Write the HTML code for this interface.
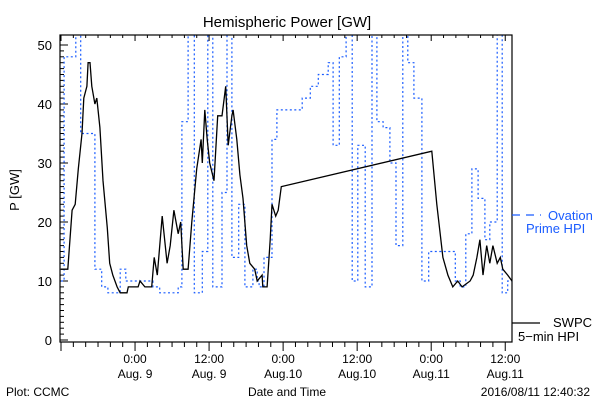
<!DOCTYPE html>
<html><head><meta charset="utf-8"><style>
body{margin:0;background:#fff;}
svg{display:block;font-family:"Liberation Sans",sans-serif;}
</style></head><body>
<svg id="chart" width="600" height="400" viewBox="0 0 600 400">
<rect width="600" height="400" fill="#fff"/>
<text x="287" y="27" font-size="15" text-anchor="middle">Hemispheric Power [GW]</text>
<text x="19" y="190" font-size="13" text-anchor="middle" transform="rotate(-90 19 190)">P [GW]</text>
<text x="287" y="396" font-size="12" text-anchor="middle">Date and Time</text>
<text x="6" y="396" font-size="12">Plot: CCMC</text>
<text x="590" y="396" font-size="12" text-anchor="end">2016/08/11 12:40:32</text>
<g id="axes"></g>
<defs><clipPath id="clip"><rect x="60" y="35" width="452" height="307"/></clipPath></defs>
<g clip-path="url(#clip)" id="series"></g>
<rect x="60" y="35" width="452" height="307" fill="none" stroke="#000" stroke-width="1.2"/>
<g>
<line x1="512" y1="215" x2="541" y2="215" stroke="#1a5cff" stroke-width="1.2" stroke-dasharray="8,6"/>
<text x="548" y="220" font-size="13" fill="#1a5cff">Ovation</text>
<text x="526" y="233" font-size="13" fill="#1a5cff">Prime HPI</text>
</g>
<g>
<line x1="512" y1="323" x2="540" y2="323" stroke="#000" stroke-width="1.2"/>
<text x="553" y="327" font-size="13">SWPC</text>
<text x="518" y="341" font-size="13">5−min HPI</text>
</g>
</svg>
<script>
// SWPC 5-min HPI (hours since Aug 8 12:00, GW)
const swpcT=[0,1.1,1.8,2.3,2.8,3.4,3.7,4.2,4.4,4.7,5.0,5.5,5.8,6.3,6.8,7.5,7.9,8.4,9.1,9.6,10.7,10.9,12.5,12.8,13.6,14.7,15.1,15.6,16.4,17.2,17.7,18.3,19.0,19.4,19.8,20.6,21.2,22.0,22.7,22.9,23.3,23.7,24.1,24.8,25.4,26.1,26.7,27.1,27.7,27.9,28.5,29.0,29.5,30.1,30.6,31.4,31.8,32.6,32.7,33.4,33.9,34.2,34.8,35.2,35.7,60.1,60.9,61.9,62.7,63.5,64.3,65.0,66.3,66.8,67.4,67.9,68.4,69.0,69.5,70.0,70.7,71.2,71.6,72.4,73.1];
const swpcV=[12,12,22,23,29,35,41,43,47,47,43,40,41,36,27,19,13,11,9,8,8,9,9,10,9,9,14,11,21,13,16,22,18,20,12,12,20,29,34,30,39,34,30,27,38,38,43,33,38,39,34,28,24,16,13,12,10,11,9,9,17,23,21,22,26,32,23,14,11,9,10,9,10,11,14,17,11,16,13,16,13,14,12,11,10];
// Ovation Prime HPI step series (start hours, GW)
const ovT=[0,0.5,2.4,3.2,5.5,6.6,7.6,9.6,10.5,14.9,16.0,19.0,19.6,20.6,21.6,22.9,23.8,24.6,26.1,26.9,27.7,28.8,29.8,31.1,31.8,32.1,32.9,34.2,35.0,39.1,40.4,41.7,43.3,44.1,45.1,46.2,47.2,48.1,49.3,50.4,51.2,52.2,53.3,54.3,55.4,56.2,57.2,58.5,59.6,63.9,64.7,65.6,66.6,67.6,68.7,69.5,70.7,71.5,72.4,73.1];
const ovV=[10,48,60,35,12,9,8,12,10,9,8,9,37,60,8,15,60,9,25,60,14,23,9,12,10,9,14,34,39,41,43,45,47,33,48,60,10,33,9,60,37,36,30,16,60,47,41,10,15,10,9,18,29,24,17,20,60,8,10,10];
const yTicks=[0,10,20,30,40,50];
const xTickHours=[12,24,36,48,60,72];
const xTickTop=["0:00","12:00","0:00","12:00","0:00","12:00"];
const xTickBot=["Aug. 9","Aug. 9","Aug.10","Aug.10","Aug.11","Aug.11"];

const NS="http://www.w3.org/2000/svg";
const xs=t=>61+t*6.17;
const ys=v=>340-v*5.9;
function mk(tag,attrs,parent){const e=document.createElementNS(NS,tag);for(const k in attrs)e.setAttribute(k,attrs[k]);parent.appendChild(e);return e;}
const axes=document.getElementById('axes');
const series=document.getElementById('series');
// y ticks
for(let v=0;v<=50;v++){
  const len=v%10===0?8:4;
  const t=mk('line',{x1:60,x2:60+len,y1:ys(v),y2:ys(v),stroke:'#000','stroke-width':1},axes);
  
  
}
yTicks.forEach(v=>{
  const t=mk('text',{x:52,y:ys(v)+5,'font-size':13,'text-anchor':'end'},axes);
  t.textContent=v;
  
  
});
// x ticks
for(let h=0;h<=73;h+=2){
  const major=h%12===0;
  const t=mk('line',{x1:xs(h),x2:xs(h),y1:342,y2:major?351:347,stroke:'#000','stroke-width':1},axes);
  
  
  const t2=mk('line',{x1:xs(h),x2:xs(h),y1:35,y2:major?41:38,stroke:'#000','stroke-width':1},axes);
  
  
}
xTickHours.forEach((h,i)=>{
  const a=mk('text',{x:xs(h),y:363,'font-size':12,'text-anchor':'middle'},axes);
  a.textContent=xTickTop[i];
  
  
  const b=mk('text',{x:xs(h),y:378,'font-size':12,'text-anchor':'middle'},axes);
  b.textContent=xTickBot[i];
  
  
});
// Ovation step line
let d='';
for(let i=0;i<ovV.length;i++){
  const x0=xs(ovT[i]),x1=xs(i+1<ovT.length?ovT[i+1]:ovT[i]),y=ys(ovV[i]);
  d+=(i===0?'M':'L')+x0.toFixed(1)+' '+y.toFixed(1)+' L'+x1.toFixed(1)+' '+y.toFixed(1)+' ';
}
const ov=mk('path',{d:d,fill:'none',stroke:'#1a5cff','stroke-width':1.2,'stroke-dasharray':'2,2.5'},series);


// SWPC line
const sd=swpcT.map((t,i)=>(i?'L':'M')+xs(t).toFixed(1)+' '+ys(swpcV[i]).toFixed(1)).join(' ');
const sw=mk('path',{d:sd,fill:'none',stroke:'#000','stroke-width':1.3},series);


</script>
</body></html>
